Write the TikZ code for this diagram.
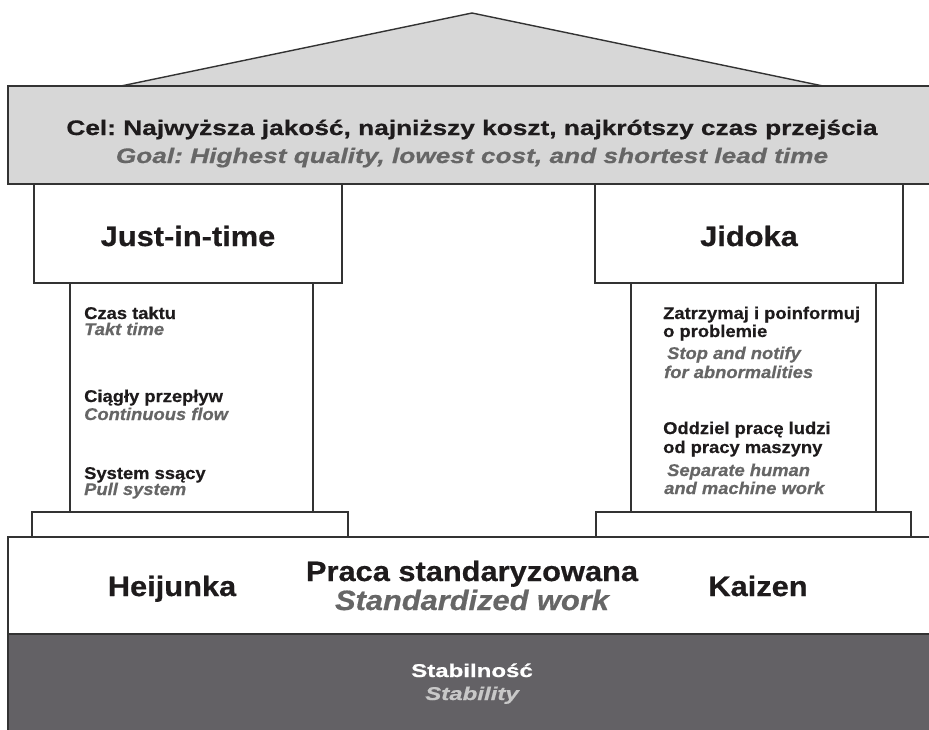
\documentclass[tikz,border=0pt]{standalone}
\usepackage{fontspec}
\frenchspacing
\newfontfamily\fgoal[FakeStretch=1.25,FakeBold=0.6]{Liberation Sans Bold}
\newfontfamily\fgoali[FakeStretch=1.25,FakeBold=0.6]{Liberation Sans Bold Italic}
\newfontfamily\fhdr[FakeStretch=1.1,FakeBold=0.6]{Liberation Sans Bold}
\newfontfamily\fhdri[FakeStretch=1.1,FakeBold=0.6]{Liberation Sans Bold Italic}
\newfontfamily\fcol[FakeStretch=1.08,FakeBold=0.5]{Liberation Sans Bold}
\newfontfamily\fcoli[FakeStretch=1.08,FakeBold=0.5]{Liberation Sans Bold Italic}
\newfontfamily\fstab[FakeStretch=1.3,FakeBold=0.6]{Liberation Sans Bold}
\newfontfamily\fstabi[FakeStretch=1.3,FakeBold=0.6]{Liberation Sans Bold Italic}
\definecolor{linec}{HTML}{333333}
\definecolor{roofc}{HTML}{D7D7D7}
\definecolor{darkc}{HTML}{636165}
\definecolor{txt}{HTML}{1E1B1C}
\definecolor{gry}{HTML}{666666}
\definecolor{lgry}{HTML}{C8C8C8}
\tikzset{
  ln/.style={draw=linec, line width=1.4pt},
  txtbase/.style={inner sep=0pt, anchor=base},
  big/.style={txtbase, font=\fhdr\frenchspacing\fontsize{28}{28}\selectfont, text=txt},
  bigen/.style={txtbase, font=\fhdri\frenchspacing\fontsize{28}{28}\selectfont, text=gry},
  goalpl/.style={txtbase, font=\fgoal\frenchspacing\fontsize{21}{21}\selectfont, text=txt},
  goalen/.style={txtbase, font=\fgoali\frenchspacing\fontsize{21}{21}\selectfont, text=gry},
  colpl/.style={inner sep=0pt, anchor=base west, font=\fcol\frenchspacing\fontsize{17}{17}\selectfont, text=txt},
  colen/.style={inner sep=0pt, anchor=base west, font=\fcoli\frenchspacing\fontsize{17}{17}\selectfont, text=gry},
  stabpl/.style={txtbase, font=\fstab\fontsize{18.5}{18.5}\selectfont, text=white},
  staben/.style={txtbase, font=\fstabi\fontsize{18.5}{18.5}\selectfont, text=lgry},
}
\begin{document}
\begin{tikzpicture}[x=1pt,y=-1pt]
\path[use as bounding box] (0,0) rectangle (929,729);
\clip (0,0) rectangle (929,729);
\fill[white] (0,0) rectangle (929,729);
% roof
\filldraw[ln, fill=roofc, line join=miter] (121,86) -- (472,13) -- (823,86);
% goal band
\filldraw[ln, fill=roofc] (8,86) rectangle (940,184);
% pillar capitals
\draw[ln, fill=white] (34,184) rectangle (342,283);
\draw[ln, fill=white] (595,184) rectangle (903,283);
% pillar shafts
\draw[ln] (70,283) -- (70,512);
\draw[ln] (313,283) -- (313,512);
\draw[ln] (631,283) -- (631,512);
\draw[ln] (876,283) -- (876,512);
% plinths
\draw[ln, fill=white] (32,512) rectangle (348,537);
\draw[ln, fill=white] (596,512) rectangle (911,537);
% middle band
\draw[ln, fill=white] (8,537) rectangle (940,634);
% stability band
\filldraw[ln, fill=darkc] (8,634) rectangle (940,740);

% texts
\node[goalpl] (cel) at (472,135) {Cel: Najwyższa jakość, najniższy koszt, najkrótszy czas przejścia};
\node[goalen] (goal) at (472,163) {Goal: Highest quality, lowest cost, and shortest lead time};
\node[big] (jit) at (188,246) {Just-in-time};
\node[big] (jid) at (749,246) {Jidoka};

\node[colpl] (c1) at (84,319) {Czas taktu};
\node[colen] (e1) at (84,335) {Takt time};
\node[colpl] (c2) at (84,402) {Ciągły przepływ};
\node[colen] (e2) at (84,420) {Continuous flow};
\node[colpl] (c3) at (84,479) {System ssący};
\node[colen] (e3) at (84,495) {Pull system};

\node[colpl] (r1) at (663,319) {Zatrzymaj i poinformuj};
\node[colpl] (r2) at (663,337) {o problemie};
\node[colen] (r3) at (667,359) {Stop and notify};
\node[colen] (r4) at (664,378) {for abnormalities};
\node[colpl] (r5) at (663,434) {Oddziel pracę ludzi};
\node[colpl] (r6) at (663,453) {od pracy maszyny};
\node[colen] (r7) at (667,476) {Separate human};
\node[colen] (r8) at (664,494) {and machine work};

\node[big] (hei) at (172,596) {Heijunka};
\node[big] (pst) at (472,581) {Praca standaryzowana};
\node[bigen] (stw) at (472,610) {Standardized work};
\node[big] (kai) at (758,596) {Kaizen};

\node[stabpl] (stab) at (472,677) {Stabilność};
\node[staben] (stabe) at (472,700) {Stability};
\end{tikzpicture}
\end{document}
